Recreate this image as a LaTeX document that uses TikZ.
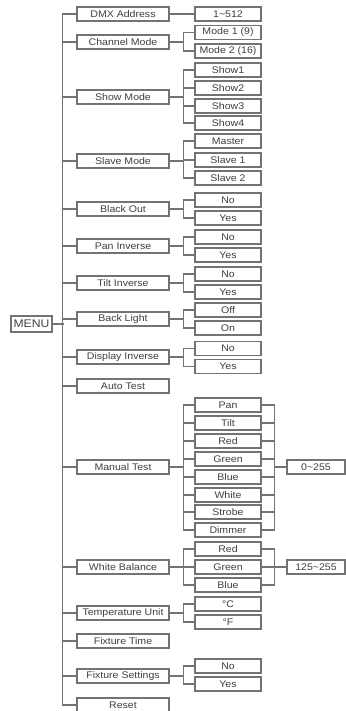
\documentclass[tikz,border=0pt]{standalone}
\usepackage{fontspec}
\setmainfont{Liberation Sans}[FakeStretch=1.1]
\begin{document}
\begin{tikzpicture}[x=0.75pt,y=-0.75pt,line width=0.8pt]
\definecolor{linegray}{rgb}{0.45,0.45,0.45}
\definecolor{textgray}{rgb}{0.25,0.25,0.25}
\tikzset{
  box/.style={draw=linegray,text=textgray,inner sep=0pt,minimum height=10.5pt,font=\fontsize{7.2}{8}\selectfont},
  menubox/.style={box,minimum width=69pt},
  optbox/.style={box,minimum width=49.5pt},
  valbox/.style={box,minimum width=43.5pt},
  rootbox/.style={box,minimum width=30.75pt,minimum height=12pt,font=\fontsize{8.3}{9}\selectfont},
  wire/.style={draw=linegray}
}
\useasboundingbox[fill=white] (0,0) rectangle (346,711);
% root
\node[rootbox] (menu) at (31.5,324) {MENU};
% main items
\node[menubox] (dmx) at (123,14) {DMX Address};
\node[menubox] (chan) at (123,42) {Channel Mode};
\node[menubox] (show) at (123,97) {Show Mode};
\node[menubox] (slave) at (123,161) {Slave Mode};
\node[menubox] (black) at (123,209) {Black Out};
\node[menubox] (pan) at (123,246) {Pan Inverse};
\node[menubox] (tilt) at (123,283) {Tilt Inverse};
\node[menubox] (light) at (123,319) {Back Light};
\node[menubox] (disp) at (123,357) {Display Inverse};
\node[menubox] (auto) at (123,386) {Auto Test};
\node[menubox] (manual) at (123,467) {Manual Test};
\node[menubox] (white) at (123,567) {White Balance};
\node[menubox] (temp) at (123,613) {Temperature Unit};
\node[menubox] (ftime) at (123,641) {Fixture Time};
\node[menubox] (fset) at (123,676) {Fixture Settings};
\node[menubox] (reset) at (123,705) {Reset};
% trunk
\draw[wire] (menu.east) -- ++(11,0);
\draw[wire] (dmx.west) -- ++(-14,0) |- (reset.west);
\foreach \m in {chan,show,slave,black,pan,tilt,light,disp,auto,manual,white,temp,ftime,fset}
  \draw[wire] (\m.west) -- ++(-14,0);
% options
\node[optbox] (dmxv) at (228,14) {1\textasciitilde512};
\draw[wire] (dmx.east) -- (dmxv.west);
\foreach \n/\t/\y in {chan1/Mode 1 (9)/32.5,chan2/Mode 2 (16)/51}
  {\node[optbox] (\n) at (228,\y) {\t}; \draw[wire] (chan.east) -- ++(14,0) |- (\n.west);}
\foreach \n/\t/\y in {show1/Show1/70,show2/Show2/88,show3/Show3/106,show4/Show4/123}
  {\node[optbox] (\n) at (228,\y) {\t}; \draw[wire] (show.east) -- ++(14,0) |- (\n.west);}
\foreach \n/\t/\y in {slave1/Master/141,slave2/Slave 1/160,slave3/Slave 2/178}
  {\node[optbox] (\n) at (228,\y) {\t}; \draw[wire] (slave.east) -- ++(14,0) |- (\n.west);}
\foreach \m/\a/\b/\y in {black/No/Yes/209,pan/No/Yes/246,tilt/No/Yes/283,light/Off/On/319,disp/No/Yes/357.5,temp/°C/°F/613,fset/No/Yes/675}
  {\node[optbox] (\m1) at (228,\y-9) {\a};
   \node[optbox] (\m2) at (228,\y+9) {\b};
   \draw[wire] (\m.east) -- ++(14,0) |- (\m1.west);
   \draw[wire] (\m.east) -- ++(14,0) |- (\m2.west);}
% manual test channels
\node[valbox] (manualv) at (316,467) {0\textasciitilde255};
\foreach \n/\t/\y in {mt1/Pan/405,mt2/Tilt/423,mt3/Red/441,mt4/Green/459,mt5/Blue/477,mt6/White/495,mt7/Strobe/512,mt8/Dimmer/530}
  {\node[optbox] (\n) at (228,\y) {\t};
   \draw[wire] (manual.east) -- ++(14,0) |- (\n.west);
   \draw[wire] (\n.east) -- ++(13,0) |- (manualv.west);}
% white balance channels
\node[valbox] (whitev) at (316,567) {125\textasciitilde255};
\foreach \n/\t/\y in {wb1/Red/549,wb2/Green/567,wb3/Blue/585}
  {\node[optbox] (\n) at (228,\y) {\t};
   \draw[wire] (white.east) -- ++(14,0) |- (\n.west);
   \draw[wire] (\n.east) -- ++(13,0) |- (whitev.west);}
\end{tikzpicture}
\end{document}
